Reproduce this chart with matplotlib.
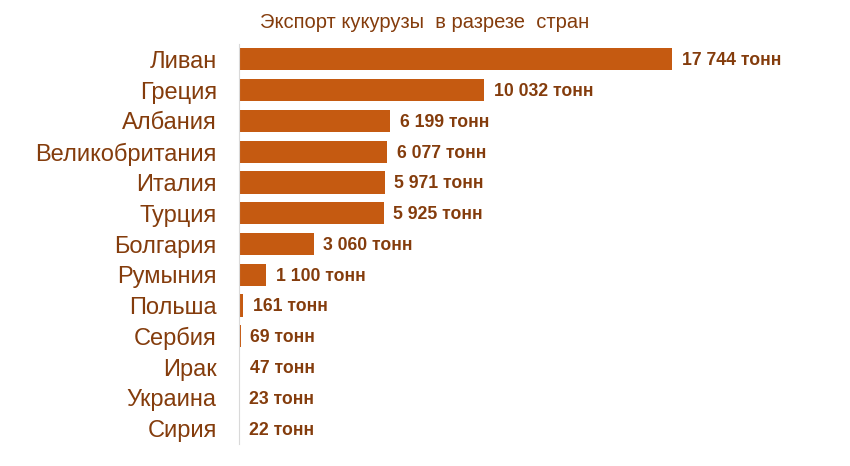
#!/usr/bin/env python3

import matplotlib
matplotlib.use("Agg")
import matplotlib.pyplot as plt

countries = ["Ливан", "Греция", "Албания", "Великобритания", "Италия", "Турция",
             "Болгария", "Румыния", "Польша", "Сербия", "Ирак", "Украина", "Сирия"]
tonnes = [17744, 10032, 6199, 6077, 5971, 5925, 3060, 1100, 161, 69, 47, 23, 22]
title = "Экспорт кукурузы  в разрезе  стран"

BAR = "#C55A11"
TEXT = "#843C0C"

plt.rcParams["font.family"] = ["Liberation Sans", "DejaVu Sans"]

fig = plt.figure(figsize=(8.5, 4.66), dpi=100)
ax = fig.add_axes([239 / 850, 22 / 466, 611 / 850, 400 / 466])

y = list(range(len(countries)))
ax.barh(y, tonnes, height=0.72, color=BAR)
ax.set_ylim(len(countries) - 0.5, -0.5)
ax.set_xlim(0, 25037)

for yi, v in zip(y, tonnes):
    lbl = f"{v:,}".replace(",", " ") + " тонн"
    ax.annotate(lbl, (v, yi), xytext=(7, -1), textcoords="offset points",
                va="center", ha="left", fontsize=12.7, fontweight="bold", color=TEXT)

ax.set_yticks(y)
ax.set_yticklabels(countries, fontsize=17, color=TEXT)
ax.tick_params(axis="y", length=0, pad=16)
ax.set_xticks([])
for s in ["top", "right", "bottom"]:
    ax.spines[s].set_visible(False)
ax.spines["left"].set_color("#D9D9D9")

fig.text(425 / 850, 1 - 22 / 466, title, ha="center", va="center", fontsize=14.5, color=TEXT)

fig.savefig("out.png", dpi=100)
